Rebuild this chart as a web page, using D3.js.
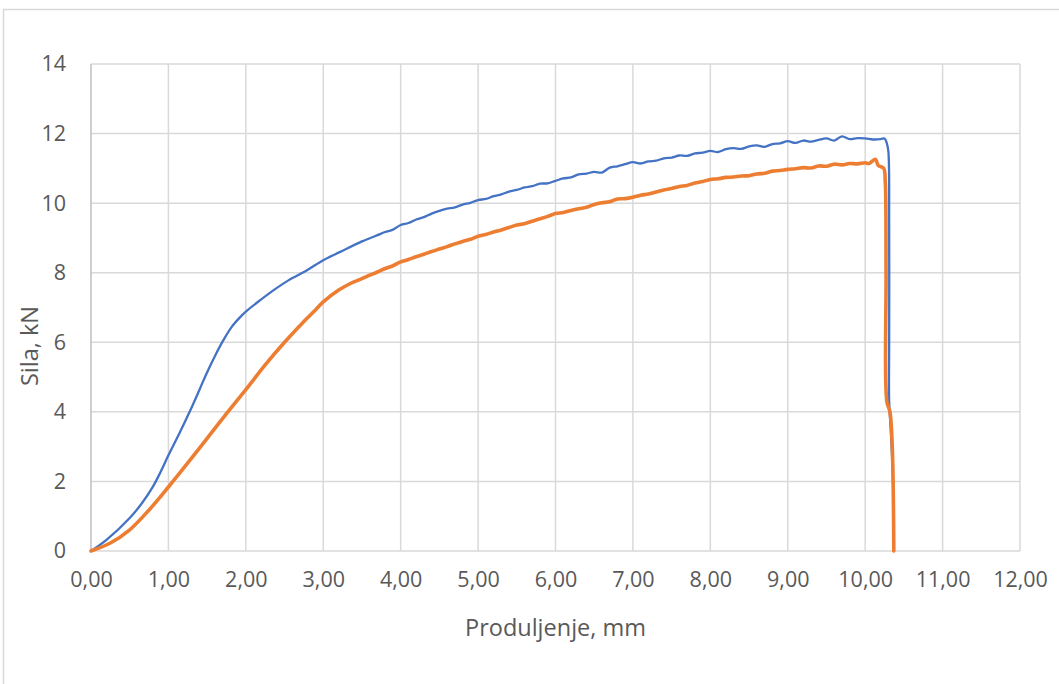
<!DOCTYPE html>
<html>
<head>
<meta charset="utf-8">
<script src="https://d3js.org/d3.v7.min.js"></script>
<style>
  html, body { margin: 0; padding: 0; background: #fff; }
  svg { display: block; }
</style>
</head>
<body>
<svg id="chart" width="1059" height="684"></svg>
<script>
// ---------- data ----------
const xTicks = [0, 1, 2, 3, 4, 5, 6, 7, 8, 9, 10, 11, 12];
const yTicks = [0, 2, 4, 6, 8, 10, 12, 14];
const xTitle = "Produljenje, mm";
const yTitle = "Sila, kN";

// Series 1 (blue): [elongation mm, force kN]
const blueX = [0, 0.2, 0.5, 0.65, 0.8, 0.9, 1.0, 1.15, 1.28, 1.4, 1.49, 1.6, 1.71, 1.82, 1.93, 2.0, 2.15, 2.36, 2.55, 2.79, 3.0, 3.22,
  3.5, 3.6, 3.7, 3.8, 3.9, 4.0, 4.1, 4.2, 4.3, 4.4, 4.5, 4.6, 4.7, 4.8, 4.9, 5.0, 5.1, 5.2, 5.3, 5.4, 5.5, 5.6, 5.7, 5.8, 5.9,
  6.0, 6.1, 6.2, 6.3, 6.4, 6.5, 6.6, 6.7, 6.8, 6.9, 7.0, 7.1, 7.2, 7.3, 7.4, 7.5, 7.6, 7.7, 7.8, 7.9, 8.0, 8.1, 8.2, 8.3, 8.4,
  8.5, 8.6, 8.7, 8.8, 8.9, 9.0, 9.1, 9.2, 9.3, 9.4, 9.5, 9.6, 9.7, 9.8, 9.9, 10.0, 10.1, 10.2, 10.25, 10.28, 10.30,
  10.31, 10.31, 10.31, 10.33, 10.36, 10.37];
const blueY = [0, 0.32, 0.95, 1.35, 1.85, 2.28, 2.75, 3.42, 4.03, 4.63, 5.09, 5.6, 6.06, 6.45, 6.73, 6.88, 7.15, 7.5, 7.78, 8.07, 8.36, 8.6,
  8.90, 8.99, 9.08, 9.17, 9.24, 9.37, 9.43, 9.53, 9.60, 9.70, 9.78, 9.84, 9.88, 9.96, 10.01, 10.09, 10.12, 10.20, 10.25, 10.33, 10.38, 10.45, 10.49, 10.56, 10.57,
  10.64, 10.71, 10.74, 10.83, 10.85, 10.90, 10.88, 11.02, 11.06, 11.12, 11.18, 11.14, 11.20, 11.22, 11.29, 11.31, 11.37, 11.36, 11.43, 11.45, 11.50, 11.47, 11.55, 11.58, 11.56,
  11.63, 11.66, 11.62, 11.70, 11.72, 11.78, 11.73, 11.80, 11.77, 11.82, 11.86, 11.80, 11.92, 11.84, 11.87, 11.86, 11.83, 11.84, 11.86, 11.72, 11.48,
  9.4, 6.0, 4.3, 3.5, 2.0, 0];

// Series 2 (orange)
const orangeX = [0, 0.25, 0.5, 0.75, 1.0, 1.25, 1.5, 1.75, 2.0, 2.25, 2.5, 2.75, 2.9, 3.0, 3.2, 3.35,
  3.5, 3.6, 3.7, 3.8, 3.9, 4.0, 4.1, 4.2, 4.3, 4.4, 4.5, 4.6, 4.7, 4.8, 4.9, 5.0, 5.1, 5.2, 5.3, 5.4, 5.5, 5.6, 5.7, 5.8, 5.9,
  6.0, 6.1, 6.2, 6.3, 6.4, 6.5, 6.6, 6.7, 6.8, 6.9, 7.0, 7.1, 7.2, 7.3, 7.4, 7.5, 7.6, 7.7, 7.8, 7.9, 8.0, 8.1, 8.2, 8.3, 8.4,
  8.5, 8.6, 8.7, 8.8, 8.9, 9.0, 9.1, 9.2, 9.3, 9.4, 9.5, 9.6, 9.7, 9.8, 9.9, 10.0, 10.05, 10.13, 10.17, 10.2, 10.24,
  10.26, 10.27, 10.28, 10.32, 10.35, 10.37];
const orangeY = [0, 0.23, 0.61, 1.18, 1.84, 2.53, 3.24, 3.95, 4.64, 5.35, 6.0, 6.6, 6.93, 7.16, 7.50, 7.69,
  7.83, 7.93, 8.02, 8.12, 8.20, 8.31, 8.38, 8.46, 8.53, 8.61, 8.68, 8.75, 8.83, 8.90, 8.96, 9.05, 9.10, 9.17, 9.23, 9.30, 9.37, 9.41, 9.48, 9.55, 9.62,
  9.70, 9.73, 9.79, 9.84, 9.88, 9.96, 10.01, 10.04, 10.12, 10.13, 10.17, 10.23, 10.26, 10.32, 10.38, 10.42, 10.48, 10.51, 10.58, 10.62, 10.68, 10.70, 10.74, 10.75, 10.78,
  10.79, 10.84, 10.86, 10.92, 10.94, 10.97, 10.99, 11.02, 11.01, 11.07, 11.06, 11.12, 11.10, 11.14, 11.13, 11.16, 11.14, 11.26, 11.08, 11.05, 11.0,
  10.6, 8.0, 4.3, 4.0, 3.0, 0];

// ---------- layout ----------
const svg = d3.select("#chart");
const mL = 91, mR = 1020, mT = 64, mB = 551;
const FONT = "'Open Sans', 'Noto Sans', sans-serif";
const TXT = "#595959";

const x = d3.scaleLinear().domain([0, 12]).range([mL, mR]);
const y = d3.scaleLinear().domain([0, 14]).range([mB, mT]);

// chart frame (extends beyond right/bottom)
svg.append("rect")
  .attr("x", 3.5).attr("y", 9.5).attr("width", 1100).attr("height", 700)
  .attr("fill", "#fff").attr("stroke", "#d9d9d9").attr("stroke-width", 1.5);

// gridlines
const grid = svg.append("g");
grid.selectAll("line.h").data(yTicks).join("line")
  .attr("x1", mL).attr("x2", mR)
  .attr("y1", d => y(d)).attr("y2", d => y(d))
  .attr("stroke", "#d9d9d9").attr("stroke-width", 1.5);
grid.selectAll("line.v").data(xTicks.filter(d => d > 0)).join("line")
  .attr("y1", mT).attr("y2", mB)
  .attr("x1", d => x(d)).attr("x2", d => x(d))
  .attr("stroke", "#d9d9d9").attr("stroke-width", 1.5);
// left axis line
svg.append("line").attr("x1", mL).attr("x2", mL).attr("y1", mT).attr("y2", mB)
  .attr("stroke", "#bfbfbf").attr("stroke-width", 1.5);

// axes via d3 (text only)
const fmt = d => d.toFixed(2).replace(".", ",");
const xAxis = svg.append("g").attr("transform", `translate(0,${mB})`)
  .call(d3.axisBottom(x).tickValues(xTicks).tickFormat(fmt).tickSize(0).tickPadding(21));
const yAxis = svg.append("g").attr("transform", `translate(${mL},0)`)
  .call(d3.axisLeft(y).tickValues(yTicks).tickFormat(d => String(d)).tickSize(0).tickPadding(25));
[xAxis, yAxis].forEach(a => {
  a.select(".domain").remove();
  a.selectAll("text").attr("font-family", FONT).attr("font-size", 21.5).attr("fill", TXT);
});
yAxis.selectAll("text").attr("dy", "0.32em");

// series
const line = d3.line().x(d => x(d[0])).y(d => y(d[1])).curve(d3.curveCatmullRom.alpha(0.5));
const blue = blueX.map((v, i) => [v, blueY[i]]);
const orange = orangeX.map((v, i) => [v, orangeY[i]]);
svg.append("path").datum(blue).attr("d", line)
  .attr("fill", "none").attr("stroke", "#4472C4").attr("stroke-width", 2.3)
  .attr("stroke-linejoin", "round").attr("stroke-linecap", "round");
svg.append("path").datum(orange).attr("d", line)
  .attr("fill", "none").attr("stroke", "#ED7D31").attr("stroke-width", 3.6)
  .attr("stroke-linejoin", "round").attr("stroke-linecap", "round");

// titles
svg.append("text").attr("x", (mL + mR) / 2).attr("y", 636)
  .attr("text-anchor", "middle").attr("font-family", FONT).attr("font-size", 23.5)
  .attr("fill", TXT).text(xTitle);
svg.append("text").attr("transform", `translate(38,346) rotate(-90)`)
  .attr("text-anchor", "middle").attr("font-family", FONT).attr("font-size", 23.5)
  .attr("fill", TXT).text(yTitle);
</script>
</body>
</html>
